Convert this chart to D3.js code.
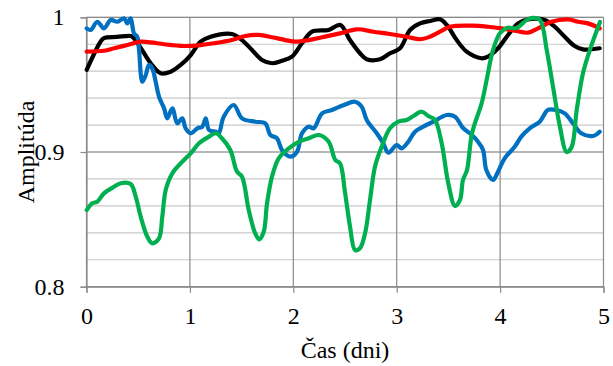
<!DOCTYPE html>
<html>
<head>
<meta charset="utf-8">
<script src="https://cdn.jsdelivr.net/npm/d3@7"></script>
<style>
  html, body { margin: 0; padding: 0; background: #fff; }
  svg text { font-family: "Liberation Serif", "Times New Roman", serif; fill: #000; }
</style>
</head>
<body>
<svg id="chart" width="613" height="366" font-family="Liberation Serif, serif"></svg>
<script>
// Time axis (days) and amplitude axis
const xTicks = [0, 1, 2, 3, 4, 5];
const yMajorTicks = [0.8, 0.9, 1.0];
const yMinorTicks = [0.8, 0.82, 0.84, 0.86, 0.88, 0.9, 0.92, 0.94, 0.96, 0.98, 1.0];
const xLabel = "Čas (dni)";
const yLabel = "Amplitúda";

// Black series: [time, amplitude]
const blackSeries = [
  [0.002, 0.961], [0.137, 0.982], [0.169, 0.9846], [0.295, 0.9854], [0.430, 0.9861],
  [0.459, 0.9844], [0.537, 0.9757], [0.621, 0.9659], [0.718, 0.9584], [0.814, 0.9596],
  [0.911, 0.9646], [1.008, 0.9720], [1.104, 0.9819], [1.201, 0.9856], [1.407, 0.9876],
  [1.504, 0.9831], [1.601, 0.9757], [1.697, 0.9683], [1.794, 0.9659], [1.891, 0.9678],
  [1.987, 0.9708], [2.084, 0.9807], [2.181, 0.9893], [2.342, 0.9906], [2.455, 0.9943],
  [2.548, 0.9831], [2.645, 0.9733], [2.710, 0.9688], [2.838, 0.9688], [2.935, 0.9733],
  [3.032, 0.9770], [3.129, 0.9906], [3.226, 0.9955], [3.322, 0.9973], [3.419, 0.9985],
  [3.484, 0.9943], [3.580, 0.9831], [3.677, 0.9745], [3.818, 0.9696], [3.883, 0.9708],
  [3.980, 0.9770], [4.077, 0.9869], [4.173, 0.9955], [4.270, 0.9985], [4.431, 0.9980],
  [4.528, 0.9930], [4.625, 0.9856], [4.721, 0.9787], [4.802, 0.9762], [4.963, 0.9770]
];

// Blue series
const blueSeries = [
  [0.002, 0.9918], [0.041, 0.9906], [0.104, 0.9967], [0.169, 0.9918], [0.234, 0.9980],
  [0.298, 0.9967], [0.363, 0.9993], [0.395, 0.9955], [0.427, 0.9993], [0.459, 0.9881],
  [0.491, 0.9856], [0.508, 0.9757], [0.540, 0.9522], [0.573, 0.9572], [0.604, 0.9646],
  [0.636, 0.9621], [0.669, 0.9522], [0.701, 0.9411], [0.750, 0.9324], [0.781, 0.9250],
  [0.830, 0.9324], [0.878, 0.9213], [0.926, 0.9250], [0.959, 0.9176], [1.008, 0.9139],
  [1.072, 0.9176], [1.120, 0.9188], [1.153, 0.9250], [1.185, 0.9163], [1.252, 0.9151],
  [1.279, 0.9139], [1.327, 0.9262], [1.424, 0.9349], [1.504, 0.9250], [1.632, 0.9225],
  [1.729, 0.9213], [1.778, 0.9126], [1.842, 0.9102], [1.891, 0.9015], [1.971, 0.8965],
  [2.036, 0.9002], [2.084, 0.9139], [2.149, 0.9188], [2.197, 0.9176], [2.278, 0.9287],
  [2.374, 0.9312], [2.490, 0.9349], [2.597, 0.9373], [2.662, 0.9336], [2.710, 0.9238],
  [2.807, 0.9139], [2.870, 0.9065], [2.919, 0.8995], [3.000, 0.9052], [3.048, 0.9027],
  [3.112, 0.9076], [3.177, 0.9151], [3.257, 0.9188], [3.354, 0.9225], [3.484, 0.9275],
  [3.564, 0.9262], [3.644, 0.9176], [3.728, 0.9126], [3.786, 0.9076], [3.835, 0.9015],
  [3.867, 0.8866], [3.931, 0.8792], [3.980, 0.8854], [4.044, 0.8953], [4.141, 0.9039],
  [4.205, 0.9114], [4.286, 0.9176], [4.383, 0.9225], [4.463, 0.9312], [4.544, 0.9312],
  [4.625, 0.9287], [4.705, 0.9213], [4.785, 0.9139], [4.898, 0.9119], [4.963, 0.9151]
];

// Red series
const redSeries = [
  [0.002, 0.9745], [0.169, 0.9752], [0.266, 0.9770], [0.395, 0.9794], [0.524, 0.9819],
  [0.621, 0.9814], [0.750, 0.9800], [0.943, 0.9787], [1.104, 0.9794], [1.233, 0.9807],
  [1.407, 0.9831], [1.536, 0.9861], [1.665, 0.9869], [1.794, 0.9852], [1.923, 0.9831],
  [2.019, 0.9819], [2.149, 0.9831], [2.278, 0.9852], [2.452, 0.9881], [2.613, 0.9911],
  [2.774, 0.9893], [2.935, 0.9876], [3.097, 0.9856], [3.225, 0.9837], [3.322, 0.9856],
  [3.419, 0.9893], [3.515, 0.9930], [3.728, 0.9938], [3.883, 0.9930], [4.012, 0.9918],
  [4.141, 0.9901], [4.270, 0.9886], [4.367, 0.9918], [4.495, 0.9967], [4.657, 0.9985],
  [4.753, 0.9967], [4.850, 0.9955], [4.963, 0.9918]
];

// Green series
const greenSeries = [
  [0.002, 0.8569], [0.056, 0.8619], [0.104, 0.8631], [0.169, 0.8693], [0.266, 0.8742],
  [0.331, 0.8768], [0.427, 0.8762], [0.476, 0.8668], [0.524, 0.8520], [0.588, 0.8371],
  [0.636, 0.8322], [0.701, 0.8359], [0.733, 0.8520], [0.766, 0.8718], [0.830, 0.8842],
  [0.943, 0.8941], [1.008, 0.8990], [1.088, 0.9065], [1.185, 0.9114], [1.252, 0.9139],
  [1.310, 0.9102], [1.391, 0.9015], [1.456, 0.8854], [1.504, 0.8817], [1.569, 0.8569],
  [1.632, 0.8396], [1.671, 0.8352], [1.714, 0.8408], [1.746, 0.8619], [1.794, 0.8817],
  [1.859, 0.8953], [1.956, 0.9027], [2.052, 0.9076], [2.149, 0.9102], [2.246, 0.9126],
  [2.342, 0.9076], [2.406, 0.8941], [2.452, 0.8916], [2.500, 0.8700], [2.549, 0.8445],
  [2.597, 0.8272], [2.645, 0.8285], [2.694, 0.8396], [2.742, 0.8644], [2.790, 0.8891],
  [2.855, 0.9039], [2.935, 0.9176], [3.015, 0.9225], [3.097, 0.9238], [3.161, 0.9267],
  [3.242, 0.9299], [3.306, 0.9267], [3.370, 0.9238], [3.435, 0.9065], [3.499, 0.8768],
  [3.564, 0.8599], [3.612, 0.8644], [3.641, 0.8792], [3.680, 0.8867], [3.729, 0.9141],
  [3.822, 0.9364], [3.870, 0.9535], [3.931, 0.9757], [3.999, 0.9883], [4.064, 0.9921],
  [4.161, 0.9921], [4.257, 0.9980], [4.318, 0.9995], [4.386, 0.9980], [4.451, 0.9757],
  [4.512, 0.9483], [4.579, 0.9186], [4.644, 0.9000], [4.692, 0.9037], [4.741, 0.9312],
  [4.802, 0.9586], [4.868, 0.9757], [4.966, 0.9965]
];

const seriesList = [
  { data: blackSeries, color: "#000000" },
  { data: blueSeries, color: "#0070C0" },
  { data: redSeries, color: "#FF0000" },
  { data: greenSeries, color: "#00B050" }
];

const FONT = "'Liberation Serif', 'Times New Roman', serif";
const svg = d3.select("#chart");
const plot = { left: 86.5, right: 603.5, top: 17.3, bottom: 286.7 };

const x = d3.scaleLinear().domain([0, 5]).range([plot.left, plot.right]);
const y = d3.scaleLinear().domain([0.8, 1.0]).range([plot.bottom, plot.top]);

// Minor horizontal grid
svg.append("g").selectAll("line")
  .data(yMinorTicks)
  .join("line")
  .attr("x1", plot.left).attr("x2", plot.right)
  .attr("y1", d => y(d)).attr("y2", d => y(d))
  .attr("stroke", "#c8c8c8").attr("stroke-width", 1.2);

// Major horizontal grid
svg.append("g").selectAll("line")
  .data(yMajorTicks)
  .join("line")
  .attr("x1", plot.left).attr("x2", plot.right)
  .attr("y1", d => y(d)).attr("y2", d => y(d))
  .attr("stroke", "#8a8a8a").attr("stroke-width", 1.2);

// Vertical grid
svg.append("g").selectAll("line")
  .data(xTicks)
  .join("line")
  .attr("x1", d => x(d)).attr("x2", d => x(d))
  .attr("y1", plot.top).attr("y2", plot.bottom)
  .attr("stroke", "#8a8a8a").attr("stroke-width", 1.2);

// Axes
const yAxis = d3.axisLeft(y)
  .tickValues(yMajorTicks)
  .tickSize(6)
  .tickPadding(16)
  .tickFormat(d => d === 1 ? "1" : d3.format(".1f")(d));
const xAxis = d3.axisBottom(x)
  .tickValues(xTicks)
  .tickSize(6)
  .tickPadding(14)
  .tickFormat(d3.format("d"));

const gy = svg.append("g").attr("transform", `translate(${plot.left},0)`).call(yAxis);
const gx = svg.append("g").attr("transform", `translate(0,${plot.bottom})`).call(xAxis);
[gx, gy].forEach(g => {
  g.attr("font-family", FONT).attr("font-size", 24);
  g.select(".domain").attr("stroke", "#8a8a8a").attr("stroke-width", 1.2);
  g.selectAll(".tick line").attr("stroke", "#8a8a8a").attr("stroke-width", 1.2);
  g.selectAll(".tick text").attr("fill", "#000");
});

// Data lines
const line = d3.line()
  .x(d => x(d[0]))
  .y(d => y(d[1]))
  .curve(d3.curveCatmullRom.alpha(0.5));

svg.append("g").selectAll("path")
  .data(seriesList)
  .join("path")
  .attr("d", s => line(s.data))
  .attr("fill", "none")
  .attr("stroke", s => s.color)
  .attr("stroke-width", 4.2)
  .attr("stroke-linejoin", "round")
  .attr("stroke-linecap", "round");

// Axis titles
svg.append("text")
  .attr("x", (plot.left + plot.right) / 2)
  .attr("y", 358)
  .attr("text-anchor", "middle")
  .attr("font-family", FONT)
  .attr("font-size", 24)
  .text(xLabel);

svg.append("text")
  .attr("transform", `translate(34,${(plot.top + plot.bottom) / 2}) rotate(-90)`)
  .attr("text-anchor", "middle")
  .attr("font-family", FONT)
  .attr("font-size", 24)
  .text(yLabel);
</script>
</body>
</html>
